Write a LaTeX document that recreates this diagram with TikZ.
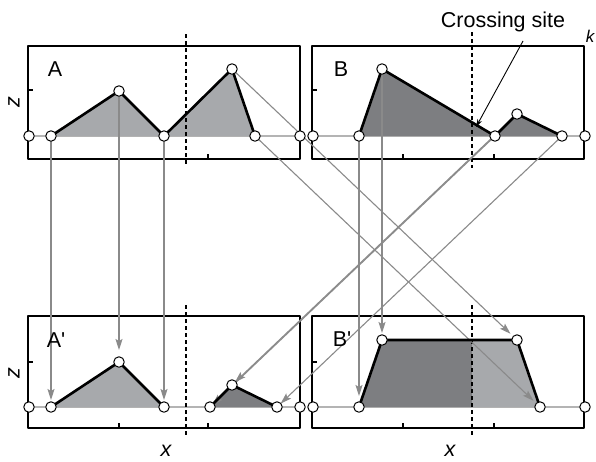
\documentclass[tikz,border=0pt]{standalone}
\usepackage{fontspec}
\setmainfont{Liberation Sans}
\usetikzlibrary{arrows.meta}
\definecolor{lightfill}{HTML}{A7A9AC}
\definecolor{darkfill}{HTML}{7D7E81}
\definecolor{basegray}{HTML}{B4B4B4}
\definecolor{arrgray}{HTML}{8A8A8A}

\begin{document}
\begin{tikzpicture}[x=1pt,y=-1pt,line join=round,
  frame/.style={line width=1.2pt},
  base/.style={draw=basegray,line width=2.6pt},
  prof/.style={line width=2.6pt},
  cut/.style={line width=1.1pt,dash pattern=on 4pt off 3pt},
  arr/.style={-{Stealth[length=11pt,width=7pt,inset=2pt]},arrgray,line width=1.1pt},
  vtx/.style={circle,draw,fill=white,line width=1pt,inner sep=0pt,minimum size=10.5pt},
  lbl/.style={font=\fontsize{21.5}{25}\selectfont}]
\useasboundingbox (0,0) rectangle (596,461);
% upper profile A
\coordinate (a0) at (29,136);
\coordinate (a1) at (51,136);
\coordinate (a2) at (119,91);
\coordinate (a3) at (164,136);
\coordinate (a4) at (232,69);
\coordinate (a5) at (255,136);
\coordinate (a6) at (300,136);
% upper profile B
\coordinate (b0) at (313,136);
\coordinate (b1) at (359,136);
\coordinate (b2) at (382,69);
\coordinate (b3) at (495,136);
\coordinate (b4) at (517,114);
\coordinate (b5) at (562,136);
\coordinate (b6) at (585,136);
% lower profile A'
\coordinate (c0) at (29,407);
\coordinate (c1) at (51,407);
\coordinate (c2) at (119,362);
\coordinate (c3) at (164,407);
\coordinate (c4) at (210,407);
\coordinate (c5) at (232,385);
\coordinate (c6) at (277,407);
\coordinate (c7) at (300,407);
% lower profile B'
\coordinate (d0) at (313,407);
\coordinate (d1) at (359,407);
\coordinate (d2) at (382,340);
\coordinate (d3) at (517,340);
\coordinate (d4) at (540,407);
\coordinate (d5) at (585,407);
\coordinate (dm) at (472,340);
\coordinate (dn) at (472,407);
% panels
\draw[frame] (28,46) rectangle (300,159);
\draw[frame] (312,46) rectangle (584,159);
\draw[frame] (28,316) rectangle (300,428);
\draw[frame] (312,316) rectangle (584,428);
\draw[frame] (28,90) -- (33,90);
\draw[frame] (312,90) -- (317,90);
\draw[frame] (28,362) -- (33,362);
\draw[frame] (312,362) -- (317,362);
\draw[frame] (119,159) -- (119,154);
\draw[frame] (208,159) -- (208,154);
\draw[frame] (403,159) -- (403,154);
\draw[frame] (494,159) -- (494,154);
\draw[frame] (119,428) -- (119,423);
\draw[frame] (208,428) -- (208,423);
\draw[frame] (403,428) -- (403,423);
\draw[frame] (494,428) -- (494,423);
% ground lines
\draw[base] (a0) -- (a6);
\draw[base] (b0) -- (b6);
\draw[base] (c0) -- (c7);
\draw[base] (d0) -- (d5);
% shaded blocks
\fill[lightfill] (a1) -- (a2) -- (a3) -- (a4) -- (a5) -- cycle;
\fill[darkfill] (b1) -- (b2) -- (b3) -- (b4) -- (b5) -- cycle;
\fill[lightfill] (c1) -- (c2) -- (c3) -- cycle;
\fill[darkfill] (c4) -- (c5) -- (c6) -- cycle;
\fill[darkfill] (d1) -- (d2) -- (dm) -- (dn) -- cycle;
\fill[lightfill] (dm) -- (d3) -- (d4) -- (dn) -- cycle;
% cuts
\draw[cut] (186,34) -- (186,166);
\draw[cut] (472,32) -- (472,168);
\draw[cut] (186,305) -- (186,436);
\draw[cut] (472,305) -- (472,436);
% displacement arrows
\draw[arr,shorten <=3pt,shorten >=7pt] (a1) -- (c1);
\draw[arr,shorten <=3pt,shorten >=12pt] (a2) -- (c2);
\draw[arr,shorten <=3pt,shorten >=7pt] (a3) -- (c3);
\draw[arr,shorten <=5pt,shorten >=9pt] (a4) -- (d3);
\draw[arr,shorten <=5pt,shorten >=9pt] (a5) -- (d4);
\draw[arr,shorten <=3pt,shorten >=11pt] (b1) -- (d1);
\draw[arr,shorten <=3pt,shorten >=7pt] (b2) -- (d2);
\draw[arr,shorten <=5pt,shorten >=3pt] (b3) -- (c4);
\draw[arr,shorten <=5pt,shorten >=4pt] (b4) -- (c5);
\draw[arr,shorten <=5pt,shorten >=5pt] (b5) -- (c6);
% profiles
\draw[prof] (a1) -- (a2) -- (a3) -- (a4) -- (a5);
\draw[prof] (b1) -- (b2) -- (b3) -- (b4) -- (b5);
\draw[prof] (c1) -- (c2) -- (c3);
\draw[prof] (c4) -- (c5) -- (c6);
\draw[prof] (d1) -- (d2) -- (d3) -- (d4);
% vertices
\node[vtx] (na0) at (a0) {};
\node[vtx] (na1) at (a1) {};
\node[vtx] (na2) at (a2) {};
\node[vtx] (na3) at (a3) {};
\node[vtx] (na4) at (a4) {};
\node[vtx] (na5) at (a5) {};
\node[vtx] (na6) at (a6) {};
\node[vtx] (nb0) at (b0) {};
\node[vtx] (nb1) at (b1) {};
\node[vtx] (nb2) at (b2) {};
\node[vtx] (nb3) at (b3) {};
\node[vtx] (nb4) at (b4) {};
\node[vtx] (nb5) at (b5) {};
\node[vtx] (nb6) at (b6) {};
\node[vtx] (nc0) at (c0) {};
\node[vtx] (nc1) at (c1) {};
\node[vtx] (nc2) at (c2) {};
\node[vtx] (nc3) at (c3) {};
\node[vtx] (nc4) at (c4) {};
\node[vtx] (nc5) at (c5) {};
\node[vtx] (nc6) at (c6) {};
\node[vtx] (nc7) at (c7) {};
\node[vtx] (nd0) at (d0) {};
\node[vtx] (nd1) at (d1) {};
\node[vtx] (nd2) at (d2) {};
\node[vtx] (nd3) at (d3) {};
\node[vtx] (nd4) at (d4) {};
\node[vtx] (nd5) at (d5) {};
% labels
\node[lbl] (labA) at (55,69) {A};
\node[lbl] (labB) at (341,69) {B};
\node[lbl] (labA2) at (56,340) {A\textquotesingle};
\node[lbl] (labB2) at (342,339) {B\textquotesingle};
\node[lbl,rotate=90] (labz1) at (14,102) {\itshape z};
\node[lbl,rotate=90] (labz2) at (14,373) {\itshape z};
\node[lbl] (labx1) at (166,451) {\itshape x};
\node[lbl] (labx2) at (450,451) {\itshape x};
\node[font=\fontsize{17}{20}\selectfont\itshape,inner sep=0pt] (labk) at (590,36) {k};
\node[lbl] (cross) at (503,22) {Crossing site};
\coordinate (cstail) at (523,41);
\coordinate (cshead) at (476,127);
\draw[-{Stealth[length=8pt,width=5pt]},line width=0.9pt] (cstail) -- (cshead);
\end{tikzpicture}
\end{document}
